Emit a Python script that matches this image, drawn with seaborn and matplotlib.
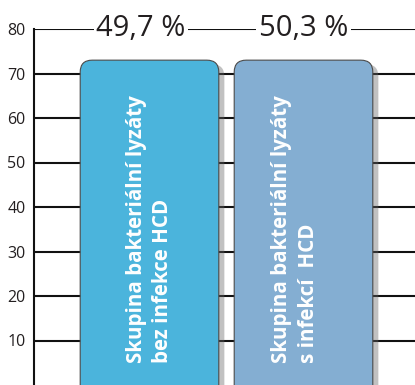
import matplotlib
matplotlib.use("Agg")
import matplotlib.pyplot as plt
import matplotlib.patheffects as pe
from matplotlib.patches import FancyBboxPatch
import seaborn as sns
import pandas as pd

categories = ["bez infekce HCD", "s infekcí HCD"]
values = [73, 73]
pct_labels = ["49,7 %", "50,3 %"]
bar_texts = ["Skupina bakteriální lyzáty\nbez infekce HCD",
             "Skupina bakteriální lyzáty\ns infekcí  HCD"]
colors = ["#4bb4dc", "#84aed2"]
yticks = [10, 20, 30, 40, 50, 60, 70, 80]

sns.set_theme(style="white")
plt.rcParams["font.family"] = ["Open Sans", "DejaVu Sans"]

fig = plt.figure(figsize=(4.15, 3.85), dpi=100)
ax = fig.add_axes([34 / 415, 0, 381 / 415, 356 / 385])

df = pd.DataFrame({"cat": categories, "val": values})
sns.barplot(data=df, x="cat", y="val", hue="cat", palette=colors,
            width=0.9, saturation=1, legend=False, ax=ax, zorder=3)

ax.set_ylim(0, 80)
ax.set_xlim(-0.75, 1.724)

ax.set_yticks(yticks)
ax.set_yticklabels([str(t) for t in yticks], fontsize=11.5, color="#231f20")
for t in yticks:
    ax.axhline(t, color="#111111", lw=1.5, zorder=1)
ax.tick_params(axis="y", length=0, pad=6)
ax.set_xticks([])
ax.set_xlabel("")
ax.set_ylabel("")
for s in ["top", "right", "bottom"]:
    ax.spines[s].set_visible(False)
ax.spines["left"].set_color("#111111")
ax.spines["left"].set_linewidth(1.5)
ax.spines["left"].set_zorder(5)

px_per_x = 381 / (1.724 + 0.75)
px_per_y = 356 / 80
aspect = px_per_x / px_per_y
rad = 12 / px_per_x
text_dx = [0.0, -0.055]
bars = list(ax.patches)
for i, b in enumerate(bars):
    x0, y0 = b.get_x(), b.get_y()
    w, h = b.get_width(), b.get_height()
    fc = b.get_facecolor()
    b.remove()
    fb = FancyBboxPatch((x0, y0 - 5), w, h + 5,
                        boxstyle=f"round,pad=0,rounding_size={rad}",
                        mutation_aspect=aspect, facecolor=fc,
                        edgecolor="#4a4a4a", lw=0.8, zorder=3)
    fb.set_path_effects([pe.SimplePatchShadow(offset=(4, -3), shadow_rgbFace="#666666", alpha=0.4),
                         pe.Normal()])
    ax.add_patch(fb)
    cx = x0 + w / 2
    ax.text(cx + text_dx[i], 5.0, bar_texts[i], rotation=90, ha="center", va="bottom",
            multialignment="left", color="white", fontsize=14.8, fontweight="bold",
            linespacing=1.35, zorder=6)

pct_dx = [-0.055, 0.0]
for i, lab in enumerate(pct_labels):
    ax.text(i + pct_dx[i], 80, lab, ha="center", va="center", fontsize=21,
            color="#231f20", zorder=6, clip_on=False,
            bbox=dict(boxstyle="square,pad=0.08", fc="white", ec="none"))

fig.savefig("out.png", dpi=100)
